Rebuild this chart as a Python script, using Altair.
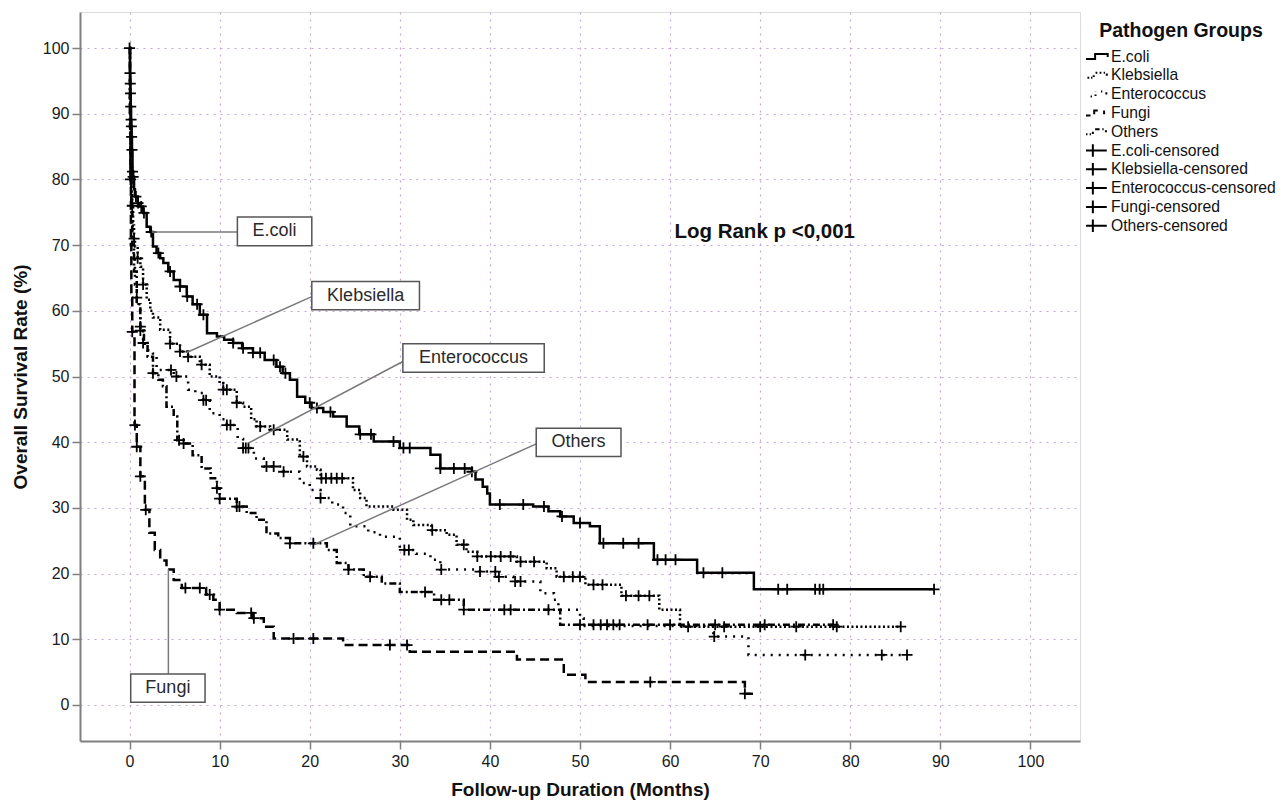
import bisect
import altair as alt
import pandas as pd

FONT = "Liberation Sans"

groups = ["E.coli", "Klebsiella", "Enterococcus", "Fungi", "Others"]

# Kaplan-Meier step curves: time (months) and survival (%) after each drop
ecoli_t = [0, 0.05, 0.08, 0.1, 0.13, 0.17, 0.2, 0.23, 0.27, 0.33, 0.4, 0.5, 0.6, 0.9, 1.2, 1.5, 1.9, 2.3, 2.6, 3.0,
           3.4, 3.75, 4.3, 4.9, 5.6, 6.35, 7.0, 7.8, 8.6, 9.7, 10.5, 11.5, 12.5, 13.7, 15.0, 16.3, 17.0, 17.8, 18.6,
           19.5, 20.2, 21.5, 22.6, 24.1, 25.5, 27.1, 30.0, 33.4, 34.5, 38.0, 38.4, 39.2, 39.7, 40.0, 44.8, 46.5,
           47.8, 49.3, 51.1, 52.2, 58.2, 63.0, 69.3, 89.3]
ecoli_s = [100, 96.2, 94.6, 93.1, 91.1, 89.1, 88.1, 86.5, 84.5, 81.2, 80.4, 78.5, 77.4, 76.4, 75.9, 74.9, 72.8, 72.0,
           69.8, 68.8, 68.0, 67.3, 66.0, 64.7, 63.7, 62.2, 61.0, 59.4, 56.6, 56.1, 55.6, 55.1, 54.3, 53.6, 52.5, 51.5,
           50.5, 49.5, 46.9, 46.0, 45.2, 44.6, 43.9, 42.4, 41.2, 40.1, 39.1, 38.1, 36.0, 35.5, 34.3, 33.2, 32.2, 30.5,
           30.2, 29.5, 28.7, 27.7, 27.2, 24.6, 22.1, 20.1, 17.6, 17.6]

kleb_t = [0, 0.05, 0.1, 0.15, 0.2, 0.3, 0.4, 0.5, 0.6, 0.9, 1.2, 1.5, 1.9, 2.3, 2.6, 3.4, 4.5, 5.6, 6.5, 7.8, 8.9,
          10.0, 10.4, 11.9, 12.6, 13.5, 14.1, 15.6, 17.5, 18.9, 19.7, 20.8, 21.2, 24.8, 25.6, 26.3, 29.3, 30.8, 31.5,
          33.5, 35.2, 36.3, 37.4, 38.6, 43.0, 46.3, 47.4, 50.6, 54.6, 58.8, 61.1, 85.6]
kleb_s = [100, 92, 86, 82, 78, 76, 73, 71, 69.8, 68, 66.7, 64, 61.7, 60, 59, 57.1, 55, 53.8, 53, 51.8, 50, 49, 48, 46,
          45.4, 43.5, 42.4, 41.9, 40.4, 37.8, 36.3, 35.8, 34.5, 32.7, 31.5, 30.2, 29.7, 28.2, 27.4, 26.6, 25.9, 24.4,
          23.3, 22.6, 21.8, 20.8, 19.5, 18.3, 16.6, 14.5, 11.9, 11.9]

ente_t = [0, 0.05, 0.1, 0.2, 0.3, 0.45, 0.6, 0.8, 1.0, 1.2, 1.5, 2.0, 2.6, 3.0, 4.9, 6.5, 7.3, 8.2, 8.9, 10.0, 10.8,
          12.0, 12.6, 13.8, 14.9, 17.1, 18.9, 20.0, 21.2, 22.5, 23.7, 24.5, 26.5, 27.8, 30.0, 31.8, 33.4, 34.5, 38.9,
          40.8, 42.6, 45.6, 47.1, 47.6, 50.0, 50.4, 64.8, 68.7, 86.3]
ente_s = [100, 90, 82, 76, 72, 68, 64, 62, 60, 57.6, 55.1, 54, 53.5, 51, 50, 48, 47.5, 46.4, 44.4, 43.5, 42.6, 40.5,
          39.1, 37.5, 36.3, 35.5, 33.8, 32.7, 31.5, 30.5, 29.2, 27.2, 26.3, 25.6, 23.6, 23.0, 22.1, 20.6, 20.3, 19.5,
          18.8, 17.0, 16.0, 14.5, 13.2, 12.0, 10.4, 7.6, 7.6]

fungi_t = [0, 0.05, 0.1, 0.15, 0.2, 0.3, 0.55, 0.8, 1.2, 1.7, 2.2, 2.8, 3.4, 4.1, 4.9, 5.8, 8.5, 9.3, 10.0, 11.9, 13.7,
           14.9, 16.0, 23.7, 31.1, 43.0, 48.2, 50.6, 68.3, 69.5]
fungi_s = [100, 90, 80, 70, 62, 56.8, 42.6, 39.3, 34.8, 29.7, 26.2, 23.6, 22.0, 20.6, 19.0, 17.8, 16.8, 16.0, 14.5, 14.0,
           13.2, 11.9, 10.1, 9.1, 8.1, 6.9, 4.6, 3.5, 1.7, 1.7]

others_t = [0, 0.05, 0.1, 0.2, 0.3, 0.5, 0.8, 1.2, 1.6, 2.0, 2.6, 3.2, 3.7, 4.1, 4.9, 5.3, 6.0, 7.0, 8.0, 9.0, 9.7,
            10.0, 11.9, 13.0, 14.1, 15.2, 16.5, 17.8, 21.9, 23.0, 24.3, 26.0, 28.0, 30.0, 33.8, 37.1, 47.8, 78.1]
others_s = [100, 88, 80, 75, 70, 66, 61, 57, 55, 53, 50.5, 49.5, 48.5, 45.4, 43.9, 40.3, 39.8, 38.0, 36.0, 34.5, 33.0,
            31.4, 30.2, 29.2, 28.2, 26.1, 25.4, 24.6, 23.6, 21.6, 20.6, 19.5, 18.5, 17.2, 16.0, 14.5, 12.2, 12.2]

# censoring times (months)
ecoli_c = [0, 0.05, 0.08, 0.1, 0.13, 0.17, 0.2, 0.23, 0.27, 0.33, 0.4, 0.7, 0.95, 1.3, 1.6, 2.4, 3.2, 4.5, 5.6, 6.4,
           7.5, 8.2, 11.5, 12.6, 13.7, 14.5, 16.0, 16.7, 17.3, 20.0, 20.8, 22.3, 25.6, 26.8, 29.3, 30.4, 31.1, 34.5,
           36.0, 37.2, 38.0, 41.1, 43.7, 46.0, 48.0, 50.0, 52.6, 54.8, 56.5, 58.6, 59.5, 60.6, 63.7, 65.8, 72.0, 73.0,
           76.1, 76.6, 77.0, 89.3]
kleb_c = [0.3, 0.5, 0.9, 1.5, 4.5, 5.6, 6.5, 8.0, 10.4, 10.8, 11.9, 14.5, 16.0, 19.3, 21.3, 21.8, 22.4, 23.0, 23.6,
          33.6, 37.1, 38.6, 40.1, 41.2, 42.3, 43.4, 44.9, 48.2, 49.2, 50.0, 51.5, 52.5, 55.1, 56.5, 57.7, 62.0, 66.0,
          70.0, 74.0, 78.5, 85.6]
ente_c = [0.8, 1.2, 1.5, 4.6, 5.2, 8.2, 8.5, 10.8, 11.2, 12.6, 12.9, 13.2, 15.2, 16.0, 17.1, 21.2, 30.5, 31.0, 34.6,
          38.9, 40.6, 41.0, 42.8, 43.4, 64.9, 75.0, 83.5, 86.3]
fungi_c = [0.3, 0.6, 0.8, 1.2, 1.8, 6.2, 7.8, 8.9, 10.0, 13.5, 13.8, 18.2, 20.4, 28.9, 30.8, 57.8, 68.3]
others_c = [0.1, 1.2, 2.6, 5.5, 6.0, 9.7, 10.0, 11.9, 12.2, 17.8, 20.4, 24.3, 26.7, 32.8, 34.6, 35.5, 37.1, 41.6, 42.3,
            46.5, 50.0, 51.5, 52.3, 53.0, 53.7, 54.4, 57.5, 60.0, 65.0, 70.5, 78.1]

curve_t = [ecoli_t, kleb_t, ente_t, fungi_t, others_t]
curve_s = [ecoli_s, kleb_s, ente_s, fungi_s, others_s]
cens_t = [ecoli_c, kleb_c, ente_c, fungi_c, others_c]

line_dashes = [[1, 0], [2, 2.5], [2, 6], [9, 5], [7, 3, 2, 3]]

rows, crows = [], []
for g, ts, ss, cs in zip(groups, curve_t, curve_s, cens_t):
    for t, s in zip(ts, ss):
        rows.append({"group": g, "t": t, "s": s})
    for c in cs:
        i = max(bisect.bisect_right(ts, c) - 1, 0)
        crows.append({"group": g, "t": c, "s": ss[i]})
lines_df = pd.DataFrame(rows)
cens_df = pd.DataFrame(crows)

# annotation callouts (data coordinates)
ann_label = ["E.coli", "Klebsiella", "Enterococcus", "Others", "Fungi"]
box_x1 = [11.97, 20.23, 30.34, 45.14, 0.13]
box_x2 = [20.23, 32.18, 46.03, 54.55, 8.38]
box_y1 = [69.9, 60.15, 50.66, 37.81, 0.41]
box_y2 = [74.27, 64.46, 54.97, 42.13, 4.72]
lead_x1 = [2.47, 6.35, 13.19, 20.6, 4.31]
lead_y1 = [72.0, 53.65, 39.85, 24.52, 20.66]
lead_x2 = [11.97, 20.23, 30.34, 45.14, 4.31]
lead_y2 = [72.0, 62.17, 52.28, 39.74, 4.72]
ann_df = pd.DataFrame({
    "label": ann_label, "bx1": box_x1, "bx2": box_x2, "by1": box_y1, "by2": box_y2,
    "lx1": lead_x1, "ly1": lead_y1, "lx2": lead_x2, "ly2": lead_y2,
    "tx": [(a + b) / 2 for a, b in zip(box_x1, box_x2)],
    "ty": [(a + b) / 2 for a, b in zip(box_y1, box_y2)],
})

stat_text = ["Log Rank p <0,001"]
stat_x = [70.5]
stat_y = [72.0]
stat_df = pd.DataFrame({"t": stat_text, "x": stat_x, "y": stat_y})

legend_items = groups + [g + "-censored" for g in groups]
legend_paths = [
    "M-1.35,0.28H-0.1V-0.28H1.3V0.05",
    "M-1.35,0.28H-1.15M-0.95,0.28H-0.75M-0.55,0.28H-0.4M-0.25,0.2V0M-0.05,-0.28H0.15M0.4,-0.28H0.6M0.85,-0.28H1.0M1.2,-0.2V0.05",
    "M-1.3,0.28H-1.15M-0.6,0.28H-0.45M-0.05,0.2V0.05M-0.05,-0.25V-0.28M0.55,-0.28H0.7M1.15,-0.2V0.05",
    "M-1.35,0.28H-0.6M-0.2,0.15V-0.28H0.2M0.9,-0.28V0.15",
    "M-1.35,0.28H-0.95M-0.7,0.28H-0.55M-0.35,0.25V0M-0.1,-0.28H0.4M0.7,-0.28H0.85M1.1,-0.15V0.05",
] + ["M-1.35,0H1.2M-0.35,-0.7V0.7"] * 5
legend_df = pd.DataFrame({"item": legend_items, "t": [0] * 10, "s": [0] * 10})

xs = alt.Scale(domain=[-5.5, 105.5], nice=False, zero=False)
ys = alt.Scale(domain=[-5.5, 105.5], nice=False, zero=False)
ticks = list(range(0, 101, 10))

axis_common = dict(
    values=ticks, grid=True, gridDash=[2, 5], gridColor="#c2a6e0", gridWidth=1.2,
    domainColor="#808080", domainWidth=2, tickColor="#808080", tickWidth=1.5, tickSize=8,
    labelFontSize=16, labelColor="#1a1a1a", labelFont=FONT,
    titleFontSize=19, titleFontWeight="bold", titleColor="#111", titleFont=FONT,
)
x_enc = alt.X("t:Q", scale=xs, axis=alt.Axis(title="Follow-up Duration (Months)", labelPadding=4,
                                             titlePadding=11, **axis_common))
y_enc = alt.Y("s:Q", scale=ys, axis=alt.Axis(title="Overall Survival Rate (%)", labelPadding=3,
                                             titlePadding=12, **axis_common))

curves = alt.Chart(lines_df).mark_line(interpolate="step-after", color="black", strokeWidth=2.5).encode(
    x=x_enc, y=y_enc,
    strokeDash=alt.StrokeDash("group:N", scale=alt.Scale(domain=groups, range=line_dashes), legend=None),
    detail="group:N",
)

plus = "M-1,0H1M0,-1V1"
censored = alt.Chart(cens_df).mark_point(shape=plus, size=121, filled=False, color="black",
                                         strokeWidth=1.8, opacity=1).encode(
    x=alt.X("t:Q", scale=xs), y=alt.Y("s:Q", scale=ys))

legend_layer = alt.Chart(legend_df).transform_filter("false").mark_point(
    filled=False, color="black", strokeWidth=2, opacity=1).encode(
    x=alt.X("t:Q", scale=xs), y=alt.Y("s:Q", scale=ys),
    shape=alt.Shape("item:N", scale=alt.Scale(domain=legend_items, range=legend_paths),
                    legend=alt.Legend(title="Pathogen Groups", orient="none", legendX=1006, legendY=10,
                                      titleFontSize=19.5, titleFontWeight="bold", titleFont=FONT,
                                      titleAnchor="middle", titlePadding=6, titleColor="#111",
                                      labelFontSize=15.7, labelFont=FONT, labelColor="#111", labelLimit=0,
                                      symbolSize=324, labelOffset=5, rowPadding=0.8, padding=0,
                                      clipHeight=18,
                                      symbolStrokeColor="black", symbolStrokeWidth=2,
                                      symbolFillColor="transparent")),
)

leads = alt.Chart(ann_df).mark_rule(color="#7a7a7a", strokeWidth=1.5).encode(
    x=alt.X("lx1:Q", scale=xs), y=alt.Y("ly1:Q", scale=ys), x2="lx2:Q", y2="ly2:Q")
boxes = alt.Chart(ann_df).mark_rect(fill="white", stroke="#555555", strokeWidth=1.5).encode(
    x=alt.X("bx1:Q", scale=xs), x2="bx2:Q", y=alt.Y("by1:Q", scale=ys), y2="by2:Q")
box_text = alt.Chart(ann_df).mark_text(fontSize=18, font=FONT, color="#2a2a2a").encode(
    x=alt.X("tx:Q", scale=xs), y=alt.Y("ty:Q", scale=ys), text="label:N")
stat = alt.Chart(stat_df).mark_text(fontSize=20.5, font=FONT, fontWeight="bold", color="#111").encode(
    x=alt.X("x:Q", scale=xs), y=alt.Y("y:Q", scale=ys), text="t:N")

chart = alt.layer(curves, censored, legend_layer, leads, boxes, box_text, stat).properties(
    width=1000, height=729,
    padding={"left": 72, "top": 4, "right": 199, "bottom": 60},
    autosize=alt.AutoSizeParams(type="none"),
).configure_view(stroke=None).configure(background="white", font=FONT)

chart.save("out.html", embed_options={"renderer": "svg", "actions": False})
